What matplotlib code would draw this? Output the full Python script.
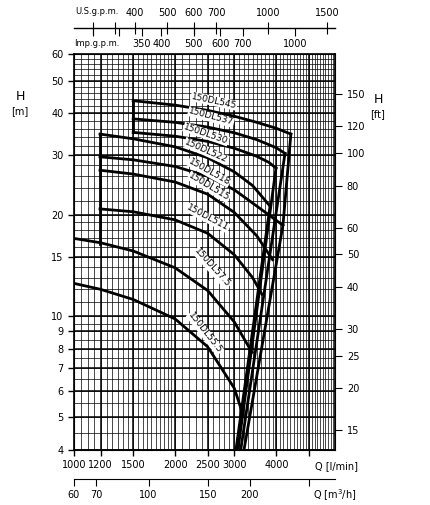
import numpy as np
import matplotlib
matplotlib.use('Agg')
import matplotlib.pyplot as plt

# pump curves: flow Q [l/min], head H [m]
names = ['150DL545', '150DL537', '150DL530', '150DL522', '150DL518', '150DL515', '150DL511', '150DL57.5', '150DL55.5']
q_545 = [1500, 2000, 2500, 3000, 3500, 4000, 4420]
h_545 = [43.6, 42.3, 40.8, 39.2, 37.6, 36.1, 34.7]
q_537 = [1500, 2000, 2500, 3000, 3500, 4000, 4245]
h_537 = [38.5, 37.6, 36.4, 35.0, 33.4, 31.6, 30.4]
q_530 = [1500, 2000, 2500, 3000, 3500, 3800, 3991]
h_530 = [35.1, 34.2, 33.0, 31.5, 29.8, 28.6, 27.5]
q_522 = [1195, 1500, 2000, 2500, 3000, 3400, 3832]
h_522 = [34.7, 33.6, 31.8, 29.5, 26.8, 24.4, 21.2]
q_518 = [1195, 1500, 2000, 2500, 3000, 3500, 4186]
h_518 = [29.7, 29.1, 27.8, 26.0, 23.7, 21.2, 18.6]
q_515 = [1195, 1500, 2000, 2500, 3000, 3500, 3900]
h_515 = [27.1, 26.4, 25.0, 23.0, 20.3, 17.3, 14.7]
q_511 = [1195, 1500, 2000, 2500, 3000, 3400, 3626]
h_511 = [20.8, 20.4, 19.3, 17.6, 15.2, 13.0, 11.6]
q_575 = [1000, 1200, 1500, 2000, 2500, 3000, 3386]
h_575 = [17.0, 16.5, 15.6, 13.9, 11.9, 9.6, 7.8]
q_555 = [1000, 1200, 1500, 2000, 2500, 3000, 3181]
h_555 = [12.5, 12.0, 11.2, 9.8, 8.1, 6.1, 5.1]
curves = [(q_545, h_545), (q_537, h_537), (q_530, h_530), (q_522, h_522), (q_518, h_518),
          (q_515, h_515), (q_511, h_511), (q_575, h_575), (q_555, h_555)]

# end-of-curve limit lines
env_q = [[4420, 4186, 3205], [4245, 3134], [3991, 3075], [3832, 3033]]
env_h = [[34.7, 18.6, 4.0], [30.4, 4.0], [27.5, 4.0], [21.2, 4.0]]
# left limit lines
left_q = [[1500, 1500], [1195, 1195]]
left_h = [[43.6, 35.1], [34.7, 16.4]]

# label positions (figure px) and rotation
lab_px = [(214, 101, -12), (211, 117, -15), (206, 134, -19), (206, 151, -24), (209, 172, -29),
          (209, 187, -31), (208, 218, -28), (212, 268, -48), (205, 333, -52)]

x_major = [1000, 1200, 1500, 2000, 2500, 3000, 4000, 5000]
y_major = [4, 5, 6, 7, 8, 9, 10, 15, 20, 30, 40, 50, 60]
ft_ticks = [15, 20, 25, 30, 40, 50, 60, 80, 100, 120, 150]
us_ticks = [300, 350, 400, 500, 600, 700, 1000, 1500]
us_labels = ['', '', '400', '500', '600', '700', '1000', '1500']
imp_ticks = [250, 300, 350, 400, 500, 600, 700, 1000]
imp_labels = ['', '', '350', '400', '500', '600', '700', '1000']
m3_ticks = [60, 70, 100, 150, 200, 300]
m3_labels = ['60', '70', '100', '150', '200', '']

W, Hh = 430, 505
fig = plt.figure(figsize=(W / 100, Hh / 100), dpi=100)
plt.rcParams['font.family'] = 'DejaVu Sans'
x0, x1, y0, y1 = 74, 335, 54, 450
ax = fig.add_axes([x0 / W, 1 - y1 / Hh, (x1 - x0) / W, (y1 - y0) / Hh])
ax.set_xscale('log')
ax.set_yscale('log')
ax.set_xlim(1000, 5980)
ax.set_ylim(4, 60)

# grid
xs_minor = list(range(1000, 2000, 50)) + list(range(2000, 6000, 100))
ys_minor = list(np.arange(4, 10, 0.5)) + list(range(10, 20)) + list(range(20, 40, 2)) + list(range(40, 61, 2))
for v in xs_minor:
    ax.axvline(v, color='black', lw=0.5)
for v in ys_minor:
    ax.axhline(v, color='black', lw=0.5)
for v in x_major:
    ax.axvline(v, color='black', lw=1.1)
for v in y_major:
    ax.axhline(v, color='black', lw=1.1)

for q, h in curves:
    ax.plot(q, h, color='black', lw=2)
for q, h in zip(env_q, env_h):
    ax.plot(q, h, color='black', lw=2)
for q, h in zip(left_q, left_h):
    ax.plot(q, h, color='black', lw=2)

ax.set_xticks(x_major)
ax.set_xticklabels(['1000', '1200', '1500', '2000', '2500', '3000', '4000', ''])
ax.set_yticks(y_major)
ax.set_yticklabels([str(v) for v in y_major])
ax.minorticks_off()
ax.tick_params(labelsize=7, length=4, width=1)
for s in ax.spines.values():
    s.set_linewidth(1.2)

# right ft axis
axr = ax.twinx()
axr.set_yscale('log')
axr.set_ylim(4 / 0.3048, 60 / 0.3048)
axr.set_yticks(ft_ticks)
axr.set_yticklabels([str(v) for v in ft_ticks])
axr.minorticks_off()
axr.tick_params(labelsize=7, length=5)

for name, (px, py, rot) in zip(names, lab_px):
    fig.text(px / W, 1 - py / Hh, name, fontsize=6.5, rotation=rot, ha='center', va='center',
             bbox=dict(facecolor='white', edgecolor='none', pad=0.3))

fs = 7
fig.text(x1 / W + 0.003, 1 - 466 / Hh, 'Q [l/min]', fontsize=fs, ha='center', va='center')
fig.text(20 / W, 1 - 100 / Hh, 'H', fontsize=9, ha='center')
fig.text(20 / W, 1 - 114 / Hh, '[m]', fontsize=7, ha='center')
fig.text(378 / W, 1 - 103 / Hh, 'H', fontsize=9, ha='center')
fig.text(378 / W, 1 - 117 / Hh, '[ft]', fontsize=7, ha='center')

# top gpm scales
axt = fig.add_axes([x0 / W, 1 - 28 / Hh, (x1 - x0) / W, 0.0001])
axt.set_xscale('log')
axt.set_xlim(1000 / 3.785, 5980 / 3.785)
for s in ['left', 'right', 'bottom']:
    axt.spines[s].set_visible(False)
axt.spines['top'].set_linewidth(1)
axt.set_yticks([])
axt.set_xticks(us_ticks)
axt.set_xticklabels(us_labels)
axt.minorticks_off()
axt.xaxis.set_ticks_position('top')
axt.tick_params(labelsize=fs, direction='inout', length=8, pad=3)
fig.text(97 / W, 1 - 12 / Hh, 'U.S.g.p.m.', fontsize=6, ha='center', va='center')

axi = fig.add_axes([x0 / W, 1 - 28 / Hh, (x1 - x0) / W, 0.0001])
axi.set_xscale('log')
axi.set_xlim(1000 / 4.546, 5980 / 4.546)
for s in axi.spines.values():
    s.set_visible(False)
axi.set_yticks([])
axi.set_xticks(imp_ticks)
axi.set_xticklabels(imp_labels)
axi.minorticks_off()
axi.tick_params(labelsize=fs, direction='out', length=6, pad=2)
fig.text(97 / W, 1 - 44 / Hh, 'Imp.g.p.m.', fontsize=6, ha='center', va='center')

# bottom m3/h scale
axm = fig.add_axes([x0 / W, 1 - 479 / Hh, (x1 - x0) / W, 0.0001])
axm.set_xscale('log')
axm.set_xlim(60, 5980 * 0.06)
for s in ['left', 'right', 'bottom']:
    axm.spines[s].set_visible(False)
axm.set_yticks([])
axm.set_xticks(m3_ticks)
axm.set_xticklabels(m3_labels)
axm.minorticks_off()
axm.tick_params(labelsize=fs, direction='out', length=5, pad=3)
fig.text(x1 / W, 1 - 495 / Hh, 'Q [m$^3$/h]', fontsize=fs, ha='center', va='center')

fig.savefig('out.png', dpi=100)
